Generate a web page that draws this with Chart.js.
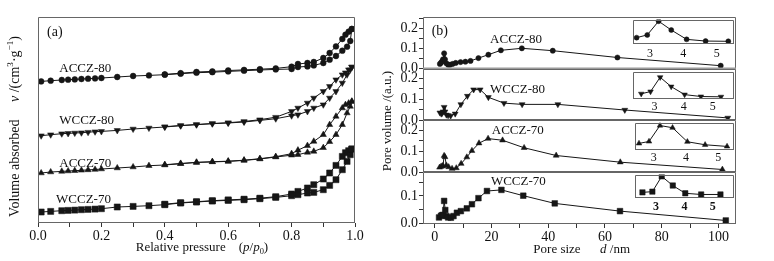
<!DOCTYPE html>
<html><head><meta charset="utf-8">
<script src="https://cdn.jsdelivr.net/npm/chart.js@4.4.1/dist/chart.umd.min.js"></script>
<style>
html,body{margin:0;padding:0;background:#fff;}
#wrap{position:relative;width:774px;height:261px;overflow:hidden;background:#fff;}
canvas{position:absolute;}
</style></head><body>
<div id="wrap">
<canvas id="ca" width="380" height="261" style="left:0;top:0"></canvas>
<canvas id="cb0" width="394" height="261" style="left:380px;top:0"></canvas>
<canvas id="cb1" width="394" height="261" style="left:380px;top:0"></canvas>
<canvas id="cb2" width="394" height="261" style="left:380px;top:0"></canvas>
<canvas id="cb3" width="394" height="261" style="left:380px;top:0"></canvas>
<canvas id="ci0"></canvas>
<canvas id="ci1"></canvas>
<canvas id="ci2"></canvas>
<canvas id="ci3"></canvas>
</div>
<script>
// ---------------- DATA ----------------
// (a) N2 adsorption-desorption isotherms (offset, arbitrary units)
const P_ADS = [0.01,0.04,0.075,0.095,0.116,0.137,0.158,0.18,0.2,0.25,0.3,0.35,0.4,0.45,0.5,0.55,0.6,0.65,0.7,0.75,0.8,0.82,0.85,0.87,0.9,0.92,0.94,0.96,0.975,0.985,0.99];
const P_DES = [0.99,0.98,0.97,0.96,0.94,0.92,0.9,0.87,0.85,0.82,0.8,0.75,0.7,0.65,0.6,0.55,0.5,0.45,0.4];
const ACCZ80_ADS = [141.6,142.3,143,143.3,143.6,144,144.3,144.6,145,146,147,147.6,148.3,149.3,150.3,150.8,151.6,152.3,153,153.6,154,156,156.6,157.6,160,163.3,167,172.3,176.3,182,194];
const ACCZ80_DES = [194,191.3,188.3,184,176.6,170,165,161,160,159,156.3,154.6,153.8,153.1,152.5,151.6,151,149.8,148.6];
const WCCZ80_ADS = [87.3,88.3,89.3,89.6,90,90.3,90.8,91.3,91.6,92.6,94,95,96,97.3,98.3,99.3,100,101,102.6,104.3,107.3,108.3,111.6,115,118.3,125,131.6,140,148.3,153.3,156];
const WCCZ80_DES = [156,153.3,150.3,148.3,143.3,136.6,131.6,125,120,115,111.6,105.8,103.3,101.5,100.3,99.5,98.5,97.5,96.3];
const ACCZ70_ADS = [50,51,51.6,52,52.3,52.7,53.1,53.5,54,55,56,57.3,58,59.3,60.6,61.1,61.6,62.6,64,66,67.8,68.3,70.6,71.6,75.3,81.3,88.3,98.3,110,116.6,121.6];
const ACCZ70_DES = [121.6,119.8,118.3,115,106.6,98.3,88.3,81.6,77.3,72.8,69.3,66.3,64.3,62.8,61.8,61.3,60.6,59.5,58.3];
const WCCZ70_ADS = [11,11.6,12.3,12.6,12.9,13.3,13.6,13.9,14.3,16,16.6,17.3,18.3,20,21,22,22.6,23.3,24.3,25.6,27.3,28.3,30,30.6,33.3,37.6,43.3,53.3,61.6,68.3,74];
const WCCZ70_DES = [74,72.3,70.3,66.6,57.6,50,44,38.3,35,31.6,29,26.3,24.8,23.8,23.1,22.3,21.3,20.3,18.8];

// (b) pore size distributions
const D_ACCZ80 = [1.8,2.2,2.6,2.9,3.3,3.6,4.1,4.7,5.4,6.3,7.4,9.1,10.8,12.6,15.4,18.9,23.3,30.7,41.6,64.4,100.8];
const V_ACCZ80 = [0.022,0.028,0.035,0.045,0.075,0.045,0.025,0.018,0.018,0.022,0.027,0.031,0.033,0.037,0.051,0.068,0.09,0.1,0.088,0.054,0.013];
const D_WCCZ80 = [1.8,2.3,2.6,2.9,3.3,3.6,4.1,4.7,5.6,7.2,9.2,11.5,13.7,16.0,18.9,24.4,30.8,43.4,67.0,103.3];
const V_WCCZ80 = [0.035,0.03,0.033,0.04,0.062,0.04,0.025,0.022,0.02,0.03,0.075,0.115,0.146,0.146,0.109,0.081,0.075,0.075,0.048,0.01];
const D_ACCZ70 = [1.7,2.2,2.6,2.9,3.3,3.6,4.1,4.9,6.1,7.6,9.3,11.3,13.1,15.6,18.8,23.9,31.5,42.8,65.4,101.4];
const V_ACCZ70 = [0.022,0.026,0.028,0.03,0.078,0.072,0.032,0.024,0.016,0.019,0.04,0.071,0.102,0.138,0.16,0.152,0.116,0.079,0.047,0.012];
const D_WCCZ70 = [1.5,2.2,2.6,2.9,3.3,3.7,4.1,4.7,5.7,6.6,7.8,9.2,11.3,13.1,15.4,18.4,23.5,31.2,42.3,65.3,102.6];
const V_WCCZ70 = [0.022,0.028,0.03,0.031,0.082,0.049,0.027,0.022,0.021,0.027,0.039,0.045,0.055,0.07,0.092,0.118,0.122,0.101,0.073,0.045,0.011];

// insets (relative scale)
const INSET_D_ACCZ80 = [2.6,2.92,3.26,3.64,4.1,4.67,5.35];
const INSET_V_ACCZ80 = [0.26,0.37,0.93,0.57,0.19,0.12,0.11];
const INSET_D_WCCZ80 = [2.54,2.86,3.19,3.57,4.03,4.59,5.28];
const INSET_V_WCCZ80 = [0.19,0.27,0.79,0.45,0.16,0.09,0.08];
const INSET_D_ACCZ70 = [2.54,2.85,3.19,3.58,4.04,4.59,5.27];
const INSET_V_ACCZ70 = [0.24,0.31,0.89,0.81,0.3,0.19,0.13];
const INSET_D_WCCZ70 = [2.52,2.87,3.2,3.59,4.03,4.59,5.27];
const INSET_V_WCCZ70 = [0.24,0.27,0.92,0.53,0.2,0.15,0.15];

// categories & tick labels
const SAMPLES = ['ACCZ-80','WCCZ-80','ACCZ-70','WCCZ-70'];
const A_X_TICK_LABELS = ['0.0','0.2','0.4','0.6','0.8','1.0'];
const B_X_TICK_LABELS = ['0','20','40','60','80','100'];
const B_Y_TICK_LABELS = ['0.0','0.1','0.2'];
const INSET_TICK_LABELS = ['3','4','5'];

// ---------------- STYLE / LAYOUT ----------------
const SERIF = '"Liberation Serif","Times New Roman",Times,serif';
Chart.defaults.font.family = SERIF;
Chart.defaults.color = '#111';
const INK = '#161616';
const FRAME = '#666';

function fontStr(s, size){
  return (s.i ? 'italic ' : '') + (s.b ? 'bold ' : '') + size + 'px ' + SERIF;
}
function drawRich(ctx, segs, x, y, align, rot, size){
  ctx.save();
  ctx.translate(x, y);
  if (rot) ctx.rotate(rot);
  const ms = segs.map(s => {
    const sz = (s.sup || s.sub) ? size * 0.65 : size;
    const f = fontStr(s, sz);
    ctx.font = f;
    return {f, w: ctx.measureText(s.t).width, dy: s.sup ? -size * 0.33 : (s.sub ? size * 0.28 : 0)};
  });
  const total = ms.reduce((a, m) => a + m.w, 0);
  let cx = align === 'center' ? -total / 2 : (align === 'right' ? -total : 0);
  ctx.textBaseline = 'middle';
  ctx.textAlign = 'left';
  ctx.fillStyle = '#111';
  segs.forEach((s, i) => { ctx.font = ms[i].f; ctx.fillText(s.t, cx, ms[i].dy); cx += ms[i].w; });
  ctx.restore();
}

function deco(opt){
  return {
    id: 'deco',
    beforeDatasetsDraw(chart){
      if (!opt.fill) return;
      const a = chart.chartArea, c = chart.ctx;
      c.save(); c.fillStyle = opt.fill;
      c.fillRect(a.left, a.top, a.right - a.left, a.bottom - a.top);
      c.restore();
    },
    afterDatasetsDraw(chart){
      const a = chart.chartArea, c = chart.ctx;
      const l = Math.round(a.left) + 0.5, r = Math.round(a.right) - 0.5;
      const t = Math.round(a.top) + 0.5, b = Math.round(a.bottom) - 0.5;
      c.save();
      c.strokeStyle = opt.frame || FRAME; c.lineWidth = 1;
      c.beginPath();
      c.moveTo(l, b); c.lineTo(l, t); c.lineTo(r, t); c.lineTo(r, b);
      c.stroke();
      c.strokeStyle = opt.bottomColor || opt.frame || FRAME;
      c.lineWidth = opt.bottomWidth || 1;
      c.beginPath(); c.moveTo(l - 0.5, b); c.lineTo(r + 0.5, b); c.stroke();
      c.restore();
    },
    afterDraw(chart){
      const c = chart.ctx;
      (opt.texts || []).forEach(tx => {
        let x = tx.x, y = tx.y;
        if (tx.data) {
          x = chart.scales.x.getPixelForValue(tx.x);
          y = chart.scales.y.getPixelForValue(tx.y);
        }
        drawRich(c, tx.segs, x, y, tx.align || 'left', tx.rot || 0, tx.size || 13);
      });
    }
  };
}

function series(xs, ys, style, rot, r){
  return {
    data: xs.map((x, i) => ({x: x, y: ys[i]})),
    borderColor: INK, borderWidth: 1,
    backgroundColor: INK,
    pointBackgroundColor: INK, pointBorderColor: INK, pointBorderWidth: 0.5,
    pointStyle: style, pointRotation: rot, pointRadius: r,
    showLine: true, tension: 0, fill: false
  };
}

const MARK = [
  {style: 'circle', rot: 0, rA: 2.9, rB: 2.6, rI: 2.5},
  {style: 'triangle', rot: 180, rA: 3.6, rB: 3.4, rI: 3.2},
  {style: 'triangle', rot: 0, rA: 3.6, rB: 3.4, rI: 3.2},
  {style: 'rect', rot: 0, rA: 4.3, rB: 4.0, rI: 3.8}
];

const baseOpts = () => ({
  responsive: false, animation: false, events: [],
  devicePixelRatio: 1,
  plugins: {legend: {display: false}, tooltip: {enabled: false}}
});

// ---------------- (a) ----------------
(function(){
  const ADS = [ACCZ80_ADS, WCCZ80_ADS, ACCZ70_ADS, WCCZ70_ADS];
  const DES = [ACCZ80_DES, WCCZ80_DES, ACCZ70_DES, WCCZ70_DES];
  const datasets = [];
  for (let k = 0; k < 4; k++) {
    datasets.push(series(P_ADS, ADS[k], MARK[k].style, MARK[k].rot, MARK[k].rA));
    datasets.push(series(P_DES, DES[k], MARK[k].style, MARK[k].rot, MARK[k].rA));
  }
  const labelPos = [[0.067, 154.5], [0.067, 102.3], [0.067, 59], [0.057, 23.7]];
  const texts = SAMPLES.map((s, k) => ({segs: [{t: s}], x: labelPos[k][0], y: labelPos[k][1], data: true, size: 13}));
  texts.push({segs: [{t: '(a)'}], x: 47, y: 32, size: 14});
  texts.push({segs: [{t: 'Volume absorbed'}, {t: '     '}, {t: 'v', i: 1}, {t: ' /(cm'}, {t: '3', sup: 1}, {t: '·g'}, {t: '−1', sup: 1}, {t: ')'}],
              x: 15, y: 126.5, align: 'center', rot: -Math.PI / 2, size: 14});
  texts.push({segs: [{t: 'Relative pressure'}, {t: '    ('}, {t: 'p', i: 1}, {t: '/'}, {t: 'p', i: 1}, {t: '0', sub: 1}, {t: ')'}],
              x: 202, y: 248, align: 'center', size: 13});
  const o = baseOpts();
  o.layout = {padding: {top: 17, right: 25, left: 0, bottom: 0}};
  o.scales = {
    x: {type: 'linear', min: 0, max: 1,
        afterFit: s => { s.height = 38; },
        border: {display: false},
        grid: {drawOnChartArea: false, drawTicks: true, tickLength: 4, color: '#333'},
        ticks: {stepSize: 0.1, autoSkip: false, maxRotation: 0, padding: 1, font: {size: 14}, color: '#111',
          callback: v => { const k = Math.round(v * 10); return (k % 2 === 0) ? A_X_TICK_LABELS[k / 2] : ''; }}},
    y: {type: 'linear', min: 0, max: 206,
        afterFit: s => { s.width = 38; },
        border: {display: false}, grid: {display: false}, ticks: {display: false}}
  };
  new Chart(document.getElementById('ca'), {type: 'line', data: {datasets}, options: o, plugins: [deco({texts})]});
})();

// ---------------- (b) ----------------
const B_D = [D_ACCZ80, D_WCCZ80, D_ACCZ70, D_WCCZ70];
const B_V = [V_ACCZ80, V_WCCZ80, V_ACCZ70, V_WCCZ70];
const B_TOP = [17, 69, 120, 172];
const B_BOTTOM = [69, 120, 172, 224];
const B_YMIN = [-0.0035, 0, 0, -0.0018];
const B_YMAX = [0.2565, 0.245, 0.249, 0.187];
const B_XMIN = -4.15, B_XMAX = 106.2;
const B_LABEL = [[19.5, 0.1415], [19.5, 0.148], [20.1, 0.196], [19.8, 0.151]];

for (let i = 0; i < 4; i++) {
  const last = i === 3;
  const o = baseOpts();
  o.layout = {padding: {top: B_TOP[i], right: 38, left: 0, bottom: last ? 0 : 261 - B_BOTTOM[i]}};
  o.scales = {
    x: {type: 'linear', min: B_XMIN, max: B_XMAX, display: last,
        afterFit: s => { s.height = last ? 261 - B_BOTTOM[3] : 0; },
        border: {display: false},
        grid: {drawOnChartArea: false, drawTicks: true, tickLength: 4, color: '#333'},
        ticks: {stepSize: 10, includeBounds: false, autoSkip: false, maxRotation: 0, padding: 1, font: {size: 14}, color: '#111',
          callback: v => { const k = Math.round(v / 10); return (k % 2 === 0) ? B_X_TICK_LABELS[k / 2] : ''; }}},
    y: {type: 'linear', min: B_YMIN[i], max: B_YMAX[i],
        afterFit: s => { s.width = 43; },
        border: {display: false},
        grid: {drawOnChartArea: false, drawTicks: true, tickLength: 4, color: '#333'},
        ticks: {stepSize: 0.05, includeBounds: false, autoSkip: false, padding: 1, font: {size: 14}, color: '#111',
          callback: v => { const k = Math.round(v * 20); return (Math.abs(v * 20 - k) < 1e-6 && k % 2 === 0 && k >= 0) ? B_Y_TICK_LABELS[k / 2] : ''; }}}
  };
  const texts = [{segs: [{t: SAMPLES[i]}], x: B_LABEL[i][0], y: B_LABEL[i][1], data: true, size: 13}];
  const extra = {};
  if (i === 0) {
    texts.push({segs: [{t: '(b)'}], x: 51.7, y: 31.7, size: 14});
    texts.push({segs: [{t: 'Pore volume /(a.u.)'}], x: 7.3, y: 121, align: 'center', rot: -Math.PI / 2, size: 13});
    extra.bottomColor = '#9a9a9a'; extra.bottomWidth = 2;
  }
  if (last) {
    texts.push({segs: [{t: 'Pore size'}, {t: '      '}, {t: 'd', i: 1}, {t: ' /nm'}], x: 201.7, y: 249.3, align: 'center', size: 13});
  }
  const ds = [series(B_D[i], B_V[i], MARK[i].style, MARK[i].rot, MARK[i].rB)];
  new Chart(document.getElementById('cb' + i), {type: 'line', data: {datasets: ds}, options: o,
    plugins: [deco(Object.assign({texts}, extra))]});
}

// ---------------- insets ----------------
const I_D = [INSET_D_ACCZ80, INSET_D_WCCZ80, INSET_D_ACCZ70, INSET_D_WCCZ70];
const I_V = [INSET_V_ACCZ80, INSET_V_WCCZ80, INSET_V_ACCZ70, INSET_V_WCCZ70];
const I_BOX = [
  {l: 630, t: 17, r: 736, b: 44, xmin: 2.477, xmax: 5.506, pad: 3},
  {l: 630, t: 69, r: 736, b: 99, xmin: 2.24, xmax: 5.71, pad: 1},
  {l: 632, t: 120, r: 736, b: 150, xmin: 2.40, xmax: 5.47, pad: 1},
  {l: 632, t: 172, r: 736, b: 198, xmin: 2.24, xmax: 5.73, pad: 2}
];
for (let i = 0; i < 4; i++) {
  const bx = I_BOX[i];
  const cv = document.getElementById('ci' + i);
  const w = bx.r - bx.l + 4, h = bx.b - bx.t + 2 + 20;
  cv.width = w; cv.height = h;
  cv.style.left = (bx.l - 2) + 'px'; cv.style.top = (bx.t - 2) + 'px';
  const o = baseOpts();
  o.layout = {padding: {top: 2, left: 2, right: 2, bottom: 0}};
  o.scales = {
    x: {type: 'linear', min: bx.xmin, max: bx.xmax,
        afterFit: s => { s.height = 20; },
        border: {display: false},
        grid: {display: false, drawTicks: false},
        ticks: {stepSize: 1, includeBounds: false, autoSkip: false, maxRotation: 0, padding: bx.pad,
          font: {size: 12, weight: i === 3 ? 'bold' : 'normal'}, color: '#111',
          callback: v => INSET_TICK_LABELS[Math.round(v) - 3]}},
    y: {type: 'linear', min: 0, max: 1, display: false}
  };
  const ds = [series(I_D[i], I_V[i], MARK[i].style, MARK[i].rot, MARK[i].rI)];
  new Chart(cv, {type: 'line', data: {datasets: ds}, options: o, plugins: [deco({fill: '#fff', frame: FRAME})]});
}
</script>
</body></html>
